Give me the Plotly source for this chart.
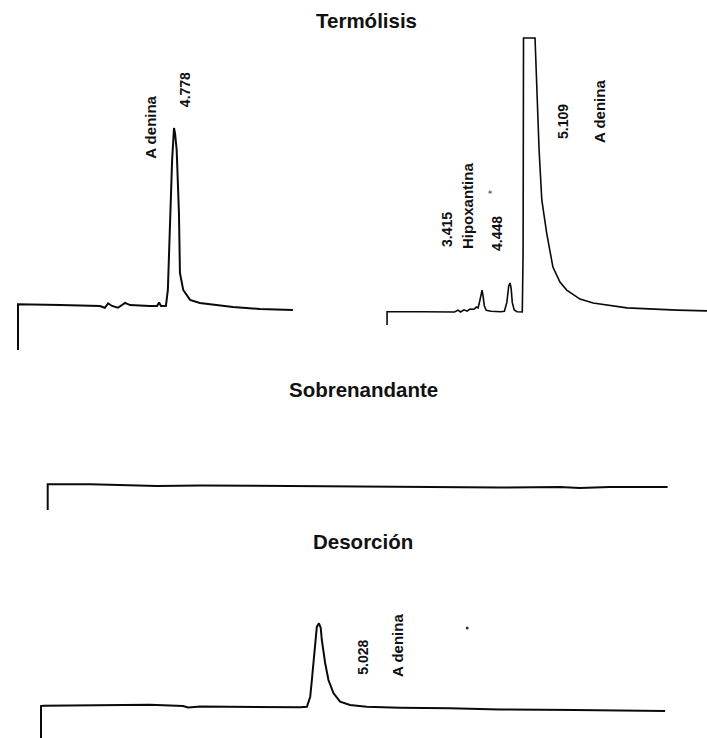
import plotly.graph_objects as go

# ---------------- data (time in min, signal in arbitrary detector units) ----------------
# Termólisis - left chromatogram
term_a_time = [0, 0, 1.29, 2.51, 2.66, 2.76, 2.88, 3.06, 3.28, 3.43, 4.04, 4.26, 4.32, 4.38, 4.53,
               4.59, 4.65, 4.72, 4.778, 4.81, 4.86, 4.93, 4.96, 5.06, 5.27, 5.57, 6.58, 7.41, 8.42]
term_a_signal = [-25, 0.8, 0.3, -0.2, -1.2, 1.3, -0.2, -1.2, 1.5, 0.3, -0.2, -0.2, 1.8, -0.2, -0.2,
                 8.8, 42.6, 82, 100, 97, 87.6, 52, 18.4, 8.8, 3.2, 1.5, -0.8, -1.9, -2.5]

# Termólisis - right chromatogram
term_b_time = [-0.09, -0.09, 1.2, 2.4, 2.53, 2.62, 2.75, 2.86, 2.97, 3.12, 3.20, 3.27, 3.33, 3.38,
               3.415, 3.45, 3.50, 3.57, 3.75, 4.10, 4.24, 4.33, 4.40, 4.448, 4.49, 4.53, 4.60, 4.70,
               4.90, 4.93, 4.945, 5.37, 5.44, 5.52, 5.62, 5.80, 6.03, 6.29, 6.54, 7.03, 7.51, 8.76,
               10.61, 11.72]
term_b_signal = [-4.7, 0.1, 0.1, 0.0, 0.7, 0.0, 0.8, 0.3, 1.1, 1.0, 1.8, 1.5, 4.0, 7.5,
                 8.0, 6.0, 2.2, 0.6, 0.3, 0.1, 0.3, 3.5, 9.5, 10.6, 8.5, 3.5, 0.8, 0.1,
                 0.0, 22, 100, 100, 77.4, 59.1, 40.9, 28.8, 16.4, 10.9, 8.0, 4.7, 3.3, 1.5,
                 0.7, 0.4]

# Sobrenandante
sobre_time = [0, 0, 0.77, 1.25, 1.98, 2.76, 4.57, 5.47, 7.10, 8.18, 9.27, 9.63, 10.17, 11.22]
sobre_signal = [-25, 0.7, 0.7, 0.0, -1.0, -0.5, -1.0, -1.5, -1.7, -2.5, -2.0, -3.0, -2.0, -2.0]

# Desorción
desor_time = [0, 0, 0.04, 0.76, 1.07, 1.97, 2.57, 2.66, 2.88, 3.78, 4.69, 4.81, 4.87, 4.90, 4.93,
              4.96, 4.99, 5.028, 5.06, 5.08, 5.14, 5.20, 5.29, 5.41, 5.59, 5.89, 6.49, 7.40, 8.30,
              9.66, 10.38, 10.84, 11.29]
desor_signal = [-34, 0, 0.3, 0.7, 1.3, 1.3, 0, -1.5, -0.5, -1.0, -1.3, -0.7, 9.3, 26, 46,
                66, 79.3, 82.7, 78, 66, 43, 26, 13, 4.3, 1.0, -0.7, -1.7, -2.3, -3.5,
                -4.0, -4.5, -5.0, -5.0]
desor_speck_time = [7.71]
desor_speck_signal = [78]

# peak labels: (text, time, signal)
term_a_labels = [("A denina", 4.07, 100.6), ("4.778", 5.12, 121.4)]
term_b_labels = [("3.415", 2.12, 30.3), ("Hipoxantina", 2.90, 38.7), ("4.448", 3.97, 28.5),
                 ("5.109", 6.40, 69.7), ("A denina", 7.77, 73.0)]
term_b_star = ("*", 3.82, 43.8)
desor_labels = [("5.028", 5.82, 49.0), ("A denina", 6.44, 60.0)]

titles = ["Termólisis", "Sobrenandante", "Desorción"]

# ---------------- layout geometry ----------------
W, H = 707, 738
# panel: (x domain px, y domain px (top,bottom), x0 px of t=0, px per min, y0 px of signal 0, px per unit)
panels = [
    ((10, 300), (60, 352), 18.0, 32.65, 305.6, 1.776),
    ((380, 707), (30, 327), 389.5, 27.1, 312.0, 2.74),
    ((40, 675), (470, 512), 47.7, 55.25, 485.0, 1.0),
    ((35, 670), (600, 738), 41.0, 55.28, 706.0, 1.0),
]

fig = go.Figure()
series = [(term_a_time, term_a_signal, 2.0), (term_b_time, term_b_signal, 1.6),
          (sobre_time, sobre_signal, 2.0), (desor_time, desor_signal, 2.0)]
line_color = "#0a0a0a"
layout_axes = {}
for i, ((xs, ys, lw), (xd, yd, x0, ppm, y0, ppu)) in enumerate(zip(series, panels), start=1):
    suffix = "" if i == 1 else str(i)
    fig.add_trace(go.Scatter(x=xs, y=ys, mode="lines", line=dict(color=line_color, width=lw),
                             xaxis="x" + suffix, yaxis="y" + suffix, hoverinfo="skip",
                             showlegend=False))
    xr = [(xd[0] - x0) / ppm, (xd[1] - x0) / ppm]
    yr = [(y0 - yd[1]) / ppu, (y0 - yd[0]) / ppu]
    layout_axes["xaxis" + suffix] = dict(domain=[xd[0] / W, xd[1] / W], range=xr, visible=False,
                                         anchor="y" + suffix, fixedrange=True)
    layout_axes["yaxis" + suffix] = dict(domain=[1 - yd[1] / H, 1 - yd[0] / H], range=yr,
                                         visible=False, anchor="x" + suffix, fixedrange=True)

fig.add_trace(go.Scatter(x=desor_speck_time, y=desor_speck_signal, mode="markers",
                         marker=dict(color="#333333", size=3), xaxis="x4", yaxis="y4",
                         hoverinfo="skip", showlegend=False))

fig.update_layout(**layout_axes)

annotations = []
label_font = "Liberation Sans, Arial, sans-serif"


def add_labels(labels, suffix):
    for text, t, s in labels:
        size = 14 if text[0].isdigit() else 15
        annotations.append(dict(text="<b>%s</b>" % text, x=t, y=s, xref="x" + suffix, yref="y" + suffix,
                                showarrow=False, textangle=-90, xanchor="center", yanchor="middle",
                                font=dict(family=label_font, size=size, color="#111111")))


add_labels(term_a_labels, "")
add_labels(term_b_labels, "2")
add_labels(desor_labels, "4")
annotations.append(dict(text=term_b_star[0], x=term_b_star[1], y=term_b_star[2], xref="x2", yref="y2",
                        showarrow=False, textangle=-90,
                        font=dict(family=label_font, size=10, color="#333333")))

title_pos = [(366, 20), (363.5, 389.5), (363, 541)]
for text, (px, py) in zip(titles, title_pos):
    annotations.append(dict(text="<b>%s</b>" % text, x=px / W, y=1 - py / H, xref="paper", yref="paper",
                            showarrow=False, xanchor="center", yanchor="middle",
                            font=dict(family=label_font, size=20.5, color="#111111")))

fig.update_layout(annotations=annotations, width=W, height=H,
                  margin=dict(l=0, r=0, t=0, b=0),
                  paper_bgcolor="white", plot_bgcolor="rgba(0,0,0,0)")

fig.write_html("out.html", config={"displayModeBar": False},
               post_script="document.body.style.margin='0';document.body.style.overflow='hidden';")
